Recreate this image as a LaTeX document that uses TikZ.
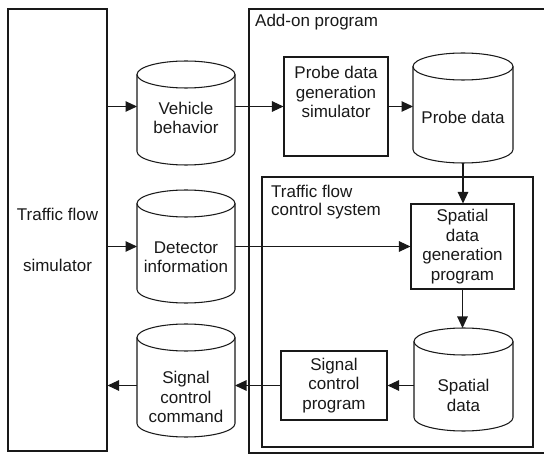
\documentclass[tikz,border=0pt]{standalone}
\usepackage{fontspec}
\setmainfont{Liberation Sans}
\usetikzlibrary{arrows.meta}

% database drum: name, x1, top, x2, bottom, text, text centre y
\newcommand\drum[7]{%
  \pgfmathsetmacro\dxc{(#2+#4)/2}%
  \pgfmathsetmacro\drx{(#4-#2)/2}%
  \pgfmathsetmacro\dyt{#3+13.5}%
  \pgfmathsetmacro\dyb{#5-13.5}%
  \pgfmathsetmacro\dym{(#3+#5)/2}%
  \pgfmathsetmacro\dw{#4-#2}%
  \pgfmathsetmacro\dh{#5-#3}%
  \draw[ln] (\dxc,\dyt) ellipse [x radius=\drx, y radius=13.5];
  \draw[ln] (#2,\dyt) -- (#2,\dyb)
     .. controls (#2,\dyb+7.456) and (\dxc-0.5523*\drx,#5) .. (\dxc,#5)
     .. controls (\dxc+0.5523*\drx,#5) and (#4,\dyb+7.456) .. (#4,\dyb) -- (#4,\dyt);
  \node[hollow, minimum width=\dw pt, minimum height=\dh pt] (#1) at (\dxc,\dym) {};
  \node[txt] (#1t) at (\dxc,#7) {#6};
}

\tikzset{
  ln/.style={line width=1.05pt, draw=black!90},
  box/.style={draw=black!90, line width=1.05pt, inner sep=0pt},
  hollow/.style={inner sep=0pt, outer sep=0pt},
  txt/.style={align=center, inner sep=0pt, text=black!90, font=\fontsize{17}{19.5}\selectfont},
  arr/.style={line width=1.05pt, draw=black!90, -{Triangle[length=11.5pt,width=10.5pt]}},
}

\begin{document}
\begin{tikzpicture}[x=1pt, y=-1pt]
  \fill[white] (0,0) rectangle (544,457);
  \clip (0,0) rectangle (544,457);

  % simulator column
  \node[box, minimum width=99pt, minimum height=442pt] (sim) at (57.5,230) {};
  \node[txt] (simt) at (57.5,240) {Traffic flow\\[31pt]simulator};

  % add-on program and the control system inside it
  \node[box, minimum width=311pt, minimum height=444pt] (addon) at (404.5,231) {};
  \node[txt, anchor=base west] (addonlbl) at (255,27) {Add-on program};
  \node[box, minimum width=271pt, minimum height=270pt] (tfcs) at (397.5,312) {};
  \node[txt, align=left, anchor=north west, font=\fontsize{17}{18}\selectfont]
    (tfcslbl) at (271,185) {Traffic flow\\control system};

  % data stores
  \drum{VB}{137}{61}{235}{165}{Vehicle\\behavior}{118}
  \drum{DI}{137}{190}{235}{303}{Detector\\information}{257}
  \drum{SCC}{137}{324}{235}{437}{Signal\\control\\command}{397}
  \drum{PD}{413}{53}{513}{163}{Probe data}{117}
  \drum{SD}{414}{328}{513}{431}{Spatial\\data}{395.5}

  % programs
  \node[box, minimum width=104pt, minimum height=99pt] (PG) at (336,106.5) {};
  \node[txt] (PGt) at (336,92) {Probe data\\generation\\simulator};
  \node[box, txt, minimum width=103pt, minimum height=85pt] (SG) at (462.5,246.5)
    {Spatial\\data\\generation\\program};
  \node[box, txt, minimum width=106pt, minimum height=69pt] (SCP) at (334,385.5)
    {Signal\\control\\program};

  % flows
  \draw[arr] (sim.east |- PG.west) -- (VB.west |- PG.west);
  \draw[arr] (VB.east |- PG.west) -- (PG.west);
  \draw[arr] (PG.east) -- (PD.west |- PG.east);
  \draw[arr] (PD.south) -- (PD.south |- SG.north);
  \draw[arr] (sim.east |- DI.west) -- (DI.west);
  \draw[arr] (DI.east) -- (SG.west |- DI.east);
  \draw[arr] (SG.south) -- (SG.south |- SD.north);
  \draw[arr] (SD.west |- SCP.east) -- (SCP.east);
  \draw[arr] (SCP.west) -- (SCC.east |- SCP.west);
  \draw[arr] (SCC.west |- SCP.west) -- (sim.east |- SCP.west);
\end{tikzpicture}
\end{document}
